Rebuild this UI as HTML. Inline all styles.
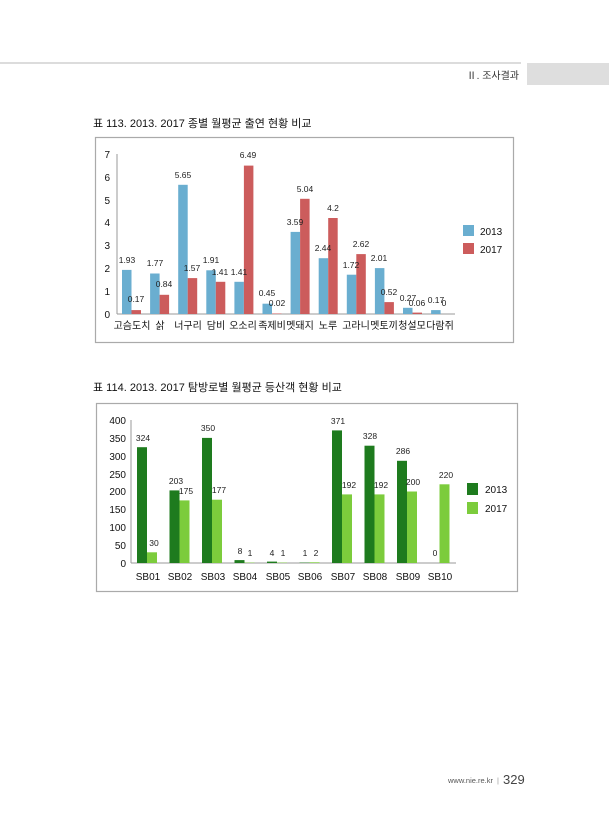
<!DOCTYPE html>
<html><head><meta charset="utf-8"><style>
html,body{margin:0;padding:0;background:#fff;}
svg{display:block;font-family:"Liberation Sans","Noto Sans CJK KR",sans-serif;}
</style></head><body>
<svg width="609" height="840" viewBox="0 0 609 840" xmlns="http://www.w3.org/2000/svg">
<rect width="609" height="840" fill="#fff"/>
<!-- header -->
<rect x="0" y="62" width="521" height="2" fill="#dcdcdc"/>
<rect x="527" y="63" width="82" height="22" fill="#dedede"/>
<text x="519" y="79" font-size="10" text-anchor="end" fill="#333">Ⅱ. 조사결과</text>

<!-- chart 1 -->
<text x="93" y="127" font-size="11" fill="#111">표 113. 2013. 2017 종별 월평균 출연 현황 비교</text>
<rect x="95.5" y="137.5" width="418" height="205" fill="#fff" stroke="#aaa" stroke-width="1.2"/>
<g font-size="10" fill="#111" text-anchor="end">
<text x="110" y="318">0</text><text x="110" y="295">1</text><text x="110" y="272">2</text><text x="110" y="249">3</text><text x="110" y="226">4</text><text x="110" y="204">5</text><text x="110" y="181">6</text><text x="110" y="158">7</text>
</g>
<line x1="117" y1="154" x2="117" y2="314" stroke="#999"/>
<line x1="117" y1="314" x2="455" y2="314" stroke="#999"/>
<g fill="#6aaed0">
<rect x="122" y="269.9" width="9.5" height="44.1"/>
<rect x="150.1" y="273.5" width="9.5" height="40.5"/>
<rect x="178.2" y="184.8" width="9.5" height="129.2"/>
<rect x="206.3" y="270.3" width="9.5" height="43.7"/>
<rect x="234.4" y="281.8" width="9.5" height="32.2"/>
<rect x="262.5" y="303.7" width="9.5" height="10.3"/>
<rect x="290.6" y="231.9" width="9.5" height="82.1"/>
<rect x="318.7" y="258.2" width="9.5" height="55.8"/>
<rect x="346.8" y="274.7" width="9.5" height="39.3"/>
<rect x="374.9" y="268.1" width="9.5" height="45.9"/>
<rect x="403" y="307.8" width="9.5" height="6.2"/>
<rect x="431.1" y="310.1" width="9.5" height="3.9"/>
</g>
<g fill="#cc5c5c">
<rect x="131.5" y="310.1" width="9.5" height="3.9"/>
<rect x="159.6" y="294.8" width="9.5" height="19.2"/>
<rect x="187.7" y="278.1" width="9.5" height="35.9"/>
<rect x="215.8" y="281.8" width="9.5" height="32.2"/>
<rect x="243.9" y="165.6" width="9.5" height="148.4"/>
<rect x="272" y="313.5" width="9.5" height="0.5"/>
<rect x="300.1" y="198.8" width="9.5" height="115.2"/>
<rect x="328.2" y="218" width="9.5" height="96"/>
<rect x="356.3" y="254.1" width="9.5" height="59.9"/>
<rect x="384.4" y="302.1" width="9.5" height="11.9"/>
<rect x="412.5" y="312.6" width="9.5" height="1.4"/>
</g>
<g font-size="8.5" fill="#222" text-anchor="middle">
<text x="127" y="263">1.93</text><text x="136" y="302">0.17</text>
<text x="155" y="266">1.77</text><text x="164" y="287">0.84</text>
<text x="183" y="178">5.65</text><text x="192" y="271">1.57</text>
<text x="211" y="263">1.91</text><text x="220" y="275">1.41</text>
<text x="239" y="275">1.41</text><text x="248" y="158">6.49</text>
<text x="267" y="296">0.45</text><text x="277" y="306">0.02</text>
<text x="295" y="225">3.59</text><text x="305" y="192">5.04</text>
<text x="323" y="251">2.44</text><text x="333" y="211">4.2</text>
<text x="351" y="268">1.72</text><text x="361" y="247">2.62</text>
<text x="379" y="261">2.01</text><text x="389" y="295">0.52</text>
<text x="408" y="301">0.27</text><text x="417" y="306">0.06</text>
<text x="436" y="303">0.17</text><text x="444" y="306">0</text>
</g>
<g font-size="10" fill="#111" text-anchor="middle">
<text x="132" y="329">고슴도치</text><text x="160" y="329">삵</text><text x="188" y="329">너구리</text><text x="216" y="329">담비</text><text x="243" y="329">오소리</text><text x="272" y="329">족제비</text><text x="300" y="329">멧돼지</text><text x="328" y="329">노루</text><text x="356" y="329">고라니</text><text x="384" y="329">멧토끼</text><text x="412" y="329">청설모</text><text x="440" y="329">다람쥐</text>
</g>
<rect x="463" y="225" width="11" height="11" fill="#6aaed0"/>
<rect x="463" y="243" width="11" height="11" fill="#cc5c5c"/>
<text x="480" y="235" font-size="10" fill="#111">2013</text>
<text x="480" y="253" font-size="10" fill="#111">2017</text>

<!-- chart 2 -->
<text x="93" y="391" font-size="11" fill="#111">표 114. 2013. 2017 탐방로별 월평균 등산객 현황 비교</text>
<rect x="96.5" y="403.5" width="421" height="188" fill="#fff" stroke="#aaa" stroke-width="1.2"/>
<g font-size="10" fill="#111" text-anchor="end">
<text x="126" y="567">0</text><text x="126" y="549">50</text><text x="126" y="531">100</text><text x="126" y="513">150</text><text x="126" y="495">200</text><text x="126" y="478">250</text><text x="126" y="460">300</text><text x="126" y="442">350</text><text x="126" y="424">400</text>
</g>
<line x1="131" y1="420" x2="131" y2="563" stroke="#999"/>
<line x1="131" y1="563" x2="456" y2="563" stroke="#999"/>
<g fill="#1e7b1e">
<rect x="137" y="447.2" width="10" height="115.8"/>
<rect x="169.5" y="490.4" width="10" height="72.6"/>
<rect x="202" y="437.9" width="10" height="125.1"/>
<rect x="234.5" y="560.1" width="10" height="2.9"/>
<rect x="267" y="561.6" width="10" height="1.4"/>
<rect x="299.5" y="562.6" width="10" height="0.4"/>
<rect x="332" y="430.4" width="10" height="132.6"/>
<rect x="364.5" y="445.7" width="10" height="117.3"/>
<rect x="397" y="460.8" width="10" height="102.2"/>
</g>
<g fill="#7ccc3c">
<rect x="147" y="552.3" width="10" height="10.7"/>
<rect x="179.5" y="500.4" width="10" height="62.6"/>
<rect x="212" y="499.7" width="10" height="63.3"/>
<rect x="244.5" y="562.6" width="10" height="0.4"/>
<rect x="277" y="562.6" width="10" height="0.4"/>
<rect x="309.5" y="562.3" width="10" height="0.7"/>
<rect x="342" y="494.4" width="10" height="68.6"/>
<rect x="374.5" y="494.4" width="10" height="68.6"/>
<rect x="407" y="491.5" width="10" height="71.5"/>
<rect x="439.5" y="484.3" width="10" height="78.7"/>
</g>
<g font-size="8.5" fill="#222" text-anchor="middle">
<text x="143" y="441">324</text><text x="154" y="546">30</text>
<text x="176" y="484">203</text><text x="186" y="494">175</text>
<text x="208" y="431">350</text><text x="219" y="493">177</text>
<text x="240" y="554">8</text><text x="250" y="556">1</text>
<text x="272" y="556">4</text><text x="283" y="556">1</text>
<text x="305" y="556">1</text><text x="316" y="556">2</text>
<text x="338" y="424">371</text><text x="349" y="488">192</text>
<text x="370" y="439">328</text><text x="381" y="488">192</text>
<text x="403" y="454">286</text><text x="413" y="485">200</text>
<text x="435" y="556">0</text><text x="446" y="478">220</text>
</g>
<g font-size="10" fill="#111" text-anchor="middle">
<text x="148" y="580">SB01</text><text x="180" y="580">SB02</text><text x="213" y="580">SB03</text><text x="245" y="580">SB04</text><text x="278" y="580">SB05</text><text x="310" y="580">SB06</text><text x="343" y="580">SB07</text><text x="375" y="580">SB08</text><text x="408" y="580">SB09</text><text x="440" y="580">SB10</text>
</g>
<rect x="467" y="483" width="11" height="12" fill="#1e7b1e"/>
<rect x="467" y="502" width="11" height="12" fill="#7ccc3c"/>
<text x="485" y="493" font-size="10" fill="#111">2013</text>
<text x="485" y="512" font-size="10" fill="#111">2017</text>

<!-- footer -->
<text x="448" y="783" font-size="7.5" fill="#555">www.nie.re.kr</text>
<text x="497" y="783" font-size="7.5" fill="#999">|</text>
<text x="503" y="784" font-size="13" fill="#444">329</text>
</svg>
</body></html>
